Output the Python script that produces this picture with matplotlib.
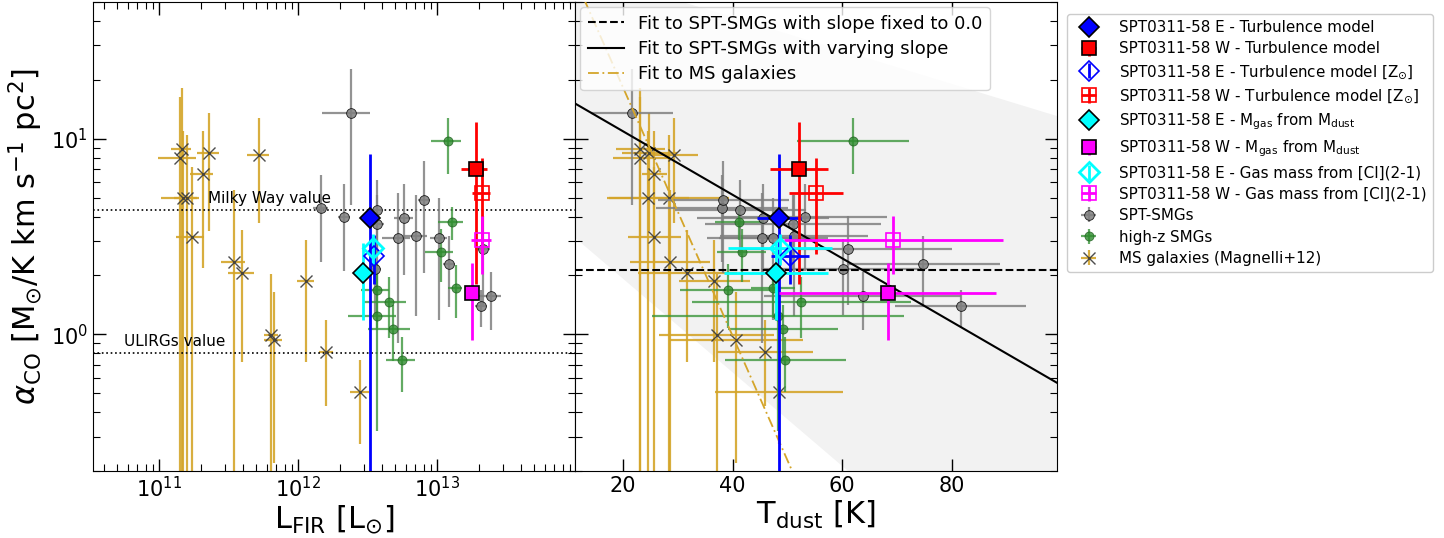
import matplotlib.pyplot as plt
import numpy as np

# ---- SPT0311-58 components (E / W) ----
s0311_labels = [
    'SPT0311-58 E - Turbulence model',
    'SPT0311-58 W - Turbulence model',
    r'SPT0311-58 E - Turbulence model [Z$_{\odot}$]',
    r'SPT0311-58 W - Turbulence model [Z$_{\odot}$]',
    r'SPT0311-58 E - M$_{\rm gas}$ from M$_{\rm dust}$',
    r'SPT0311-58 W - M$_{\rm gas}$ from M$_{\rm dust}$',
    'SPT0311-58 E - Gas mass from [CI](2-1)',
    'SPT0311-58 W - Gas mass from [CI](2-1)',
]
s0311_lfir = [3.3e12, 1.9e13, 3.5e12, 2.1e13, 2.95e12, 1.78e13, 3.48e12, 2.1e13]
s0311_lfir_err = [0.0, 4e12, 0.0, 3e12, 0.0, 2e12, 0.0, 3.5e12]
s0311_tdust = [48.5, 52.1, 50.5, 55.2, 47.9, 68.3, 48.7, 69.3]
s0311_tdust_err = [4.0, 5.3, 3.5, 5.0, 9.5, 19.8, 9.5, 20.0]
s0311_alpha = [3.92, 7.0, 2.51, 5.28, 2.06, 1.63, 2.75, 3.04]
s0311_alpha_err = [4.46, 5.2, 0.7, 2.7, 0.87, 0.69, 0.5, 1.0]

# ---- SPT-SMGs ----
spt_lfir = [2.4e12, 1.46e12, 2.15e12, 3.7e12, 3.7e12, 5.2e12, 5.8e12, 7.1e12,
            8.1e12, 1.04e13, 1.23e13, 2.15e13, 3.6e12, 2.09e13, 2.45e13]
spt_lfir_err = [0.9e12, 0.18e12, 0.22e12, 0.37e12, 0.45e12, 1.2e12, 0.87e12, 1.4e12,
                0.8e12, 1.5e12, 1.2e12, 2.6e12, 0.36e12, 2.1e12, 4.5e12]
spt_tdust = [21.6, 38.0, 53.1, 41.4, 51.0, 45.3, 45.5, 51.2,
             38.3, 47.4, 74.8, 61.0, 60.1, 81.6, 63.7]
spt_tdust_err = [7.5, 12, 15, 12, 16, 10, 12, 13.5, 12, 10, 14, 19, 15, 12, 18]
spt_alpha = [13.6, 4.43, 4.0, 4.34, 3.66, 3.1, 3.95, 3.19,
             4.86, 3.09, 2.28, 2.72, 2.16, 1.39, 1.57]
spt_alpha_err = [9.0, 2.1, 1.9, 1.8, 1.5, 2.2, 1.95, 1.95,
                 2.8, 1.9, 0.9, 1.3, 0.9, 0.3, 0.52]

# ---- high-z SMGs ----
hz_lfir = [1.2e13, 1.28e13, 1.06e13, 1.36e13, 3.7e12, 4.5e12, 3.7e12, 4.8e12, 5.6e12]
hz_lfir_err = [3e12, 2.6e12, 2.4e12, 1.6e12, 0.85e12, 1.5e12, 1.4e12, 1.6e12, 1.3e12]
hz_tdust = [62.0, 41.2, 41.6, 47.3, 39.1, 52.5, 48.2, 49.2, 49.6]
hz_tdust_err = [10.2, 4.5, 4.4, 4.0, 8.7, 20, 23, 10, 11]
hz_alpha = [9.7, 3.74, 2.65, 1.73, 1.68, 1.46, 1.24, 1.07, 0.736]
hz_alpha_err = [3.1, 0.72, 0.8, 0.52, 0.6, 0.5, 0.92, 0.34, 0.23]

# ---- MS galaxies (Magnelli+12) ----
ms_lfir = [1.46e11, 1.42e11, 2.28e11, 2.06e11, 5.26e11, 1.48e11, 1.58e11, 1.72e11,
           3.49e11, 3.97e11, 1.15e12, 6.44e11, 6.7e11, 1.6e12, 2.8e12]
ms_lfir_err = [0.25e11, 0.43e11, 0.4e11, 0.38e11, 0.95e11, 0.45e11, 0.3e11, 0.4e11,
               0.7e11, 0.85e11, 0.16e12, 0.075e12, 0.1e12, 0.19e12, 0.42e12]
ms_tdust = [23.1, 23.1, 24.8, 25.7, 29.3, 24.5, 28.4, 25.7,
            28.6, 31.7, 36.6, 37.1, 40.6, 45.9, 48.5]
ms_tdust_err = [4.5, 5, 5, 2.3, 4.4, 7.5, 11, 4.9, 7.3, 9, 6.5, 10.5, 12.3, 8.8, 11.7]
ms_alpha = [8.86, 7.93, 8.48, 6.57, 8.22, 4.96, 4.96, 3.14,
            2.34, 2.07, 1.87, 0.996, 0.93, 0.81, 0.506]
ms_alpha_err = [9.4, 8.5, 5.1, 4.4, 4.5, 6.0, 5.5, 4.0,
                3.1, 1.35, 1.15, 1.03, 0.71, 0.38, 0.23]

# ---- reference values and fits (log10 alpha = a + b * Tdust) ----
alpha_mw = 4.3
alpha_ulirg = 0.8
fit_flat = 2.14
fit_a, fit_b = 1.362, -0.01623
fit_da, fit_db = 0.6, 0.0077
ms_fit_a, ms_fit_b = 2.53, -0.0635

# marker styles for the SPT0311-58 points
s0311_styles = [
    dict(color='blue', marker='D', mfc='blue', mec='k', ms=10),
    dict(color='red', marker='s', mfc='red', mec='k', ms=10),
    dict(color='blue', marker='D', mfc='none', mec='blue', ms=10),
    dict(color='red', marker='s', mfc='none', mec='red', ms=10),
    dict(color='cyan', marker='D', mfc='cyan', mec='k', ms=10),
    dict(color='magenta', marker='s', mfc='magenta', mec='k', ms=10),
    dict(color='cyan', marker='D', mfc='none', mec='cyan', ms=10, mew=2),
    dict(color='magenta', marker='s', mfc='none', mec='magenta', ms=10),
]
gold = '#d4a52a'

fig = plt.figure(figsize=(14.44, 5.38), dpi=100)
ax1 = fig.add_axes([0.0644, 0.1245, 0.3338, 0.8718])
ax2 = fig.add_axes([0.3982, 0.1245, 0.3338, 0.8718], sharey=ax1)


def draw_samples(ax, xkey):
    """draw all samples on one panel, xkey = 'lfir' or 'tdust'"""
    if xkey == 'lfir':
        xs = (ms_lfir, ms_lfir_err, spt_lfir, spt_lfir_err, hz_lfir, hz_lfir_err,
              s0311_lfir, s0311_lfir_err)
    else:
        xs = (ms_tdust, ms_tdust_err, spt_tdust, spt_tdust_err, hz_tdust, hz_tdust_err,
              s0311_tdust, s0311_tdust_err)
    handles = []
    h_ms = ax.errorbar(xs[0], ms_alpha, xerr=xs[1], yerr=ms_alpha_err, fmt='x',
                       color='#3a3a3a', ms=8, mew=1.0, ecolor=gold, elinewidth=1.6,
                       alpha=0.9, capsize=0, zorder=2, label='MS galaxies (Magnelli+12)')
    h_spt = ax.errorbar(xs[2], spt_alpha, xerr=xs[3], yerr=spt_alpha_err, fmt='o',
                        color='gray', mec='k', mew=0.6, ms=7, ecolor='gray',
                        elinewidth=1.6, alpha=0.85, capsize=0, zorder=3, label='SPT-SMGs')
    h_hz = ax.errorbar(xs[4], hz_alpha, xerr=xs[5], yerr=hz_alpha_err, fmt='o',
                       color='#2e8b2e', mec='#1d5e1d', mew=0.6, ms=6.5, ecolor='#3c963c',
                       elinewidth=1.6, alpha=0.8, capsize=0, zorder=3, label='high-z SMGs')
    for i in range(len(s0311_labels)):
        st = s0311_styles[i]
        h = ax.errorbar(xs[6][i], s0311_alpha[i],
                        xerr=xs[7][i] if xs[7][i] > 0 else None,
                        yerr=s0311_alpha_err[i], fmt=st['marker'], color=st['color'],
                        mfc=st['mfc'], mec=st['mec'], ms=st['ms'],
                        mew=st.get('mew', 1.2), elinewidth=2, capsize=0, zorder=5,
                        label=s0311_labels[i])
        handles.append(h)
    handles += [h_spt, h_hz, h_ms]
    return handles


# ---- left panel: L_FIR ----
handles = draw_samples(ax1, 'lfir')
ax1.axhline(alpha_mw, color='k', ls=':', lw=1.2)
ax1.axhline(alpha_ulirg, color='k', ls=':', lw=1.2)
ax1.text(2.25e11, alpha_mw * 1.05, 'Milky Way value', fontsize=11, va='bottom')
ax1.text(5.6e10, alpha_ulirg * 1.05, 'ULIRGs value', fontsize=11, va='bottom')
ax1.set_xscale('log')
ax1.set_yscale('log')
ax1.set_xlim(10**10.525, 10**13.993)
ax1.set_ylim(0.2, 50)
ax1.set_xlabel(r'L$_{\rm FIR}$ [L$_{\odot}$]', fontsize=22, labelpad=2)
ax1.set_ylabel(r'$\alpha_{\rm CO}$ [M$_{\odot}$/K km s$^{-1}$ pc$^2$]', fontsize=22)

# ---- right panel: T_dust ----
draw_samples(ax2, 'tdust')
tt = np.linspace(11.2, 99.2, 200)
upper = 10 ** ((fit_a + fit_da) + (fit_b + fit_db) * tt)
lower = 10 ** ((fit_a - fit_da) + (fit_b - fit_db) * tt)
ax2.fill_between(tt, lower, upper, color='0.95', lw=0, zorder=0)
l1, = ax2.plot(tt, np.full_like(tt, fit_flat), 'k--', lw=1.5, zorder=4,
               label='Fit to SPT-SMGs with slope fixed to 0.0')
l2, = ax2.plot(tt, 10 ** (fit_a + fit_b * tt), 'k-', lw=1.5, zorder=4,
               label='Fit to SPT-SMGs with varying slope')
l3, = ax2.plot(tt, 10 ** (ms_fit_a + ms_fit_b * tt), color=gold, lw=1.3,
               ls=(0, (6, 2, 1, 2)), zorder=4, label='Fit to MS galaxies')
ax2.set_xlim(11.2, 99.2)
ax2.set_xticks([20, 40, 60, 80])
ax2.set_xlabel(r'T$_{\rm dust}$ [K]', fontsize=22, labelpad=2)
plt.setp(ax2.get_yticklabels(), visible=False)

ax2.legend(handles=[l1, l2, l3], loc='upper left', fontsize=13, framealpha=0.8,
           borderaxespad=0.3, labelspacing=0.4)
fig.legend(handles=handles, loc='upper left', bbox_to_anchor=(0.734, 0.988),
           fontsize=10.9, framealpha=1.0, handletextpad=1.0, labelspacing=0.42)

for ax in (ax1, ax2):
    ax.tick_params(which='both', direction='in', top=True, right=True, labelsize=15)
    ax.tick_params(which='major', length=9, width=1)
    ax.tick_params(which='minor', length=5, width=0.8)

fig.savefig('out.png', dpi=100)
